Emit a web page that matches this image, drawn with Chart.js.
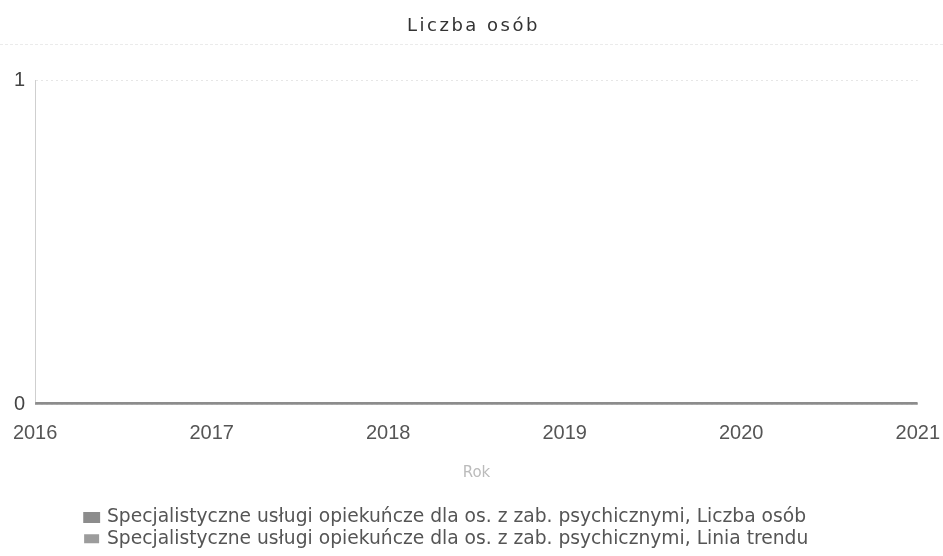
<!DOCTYPE html>
<html>
<head>
<meta charset="utf-8">
<script src="https://cdn.jsdelivr.net/npm/chart.js@4"></script>
<style>
  html, body { margin: 0; padding: 0; background: #fff; }
  #wrap { width: 943px; height: 556px; }
</style>
</head>
<body>
<div id="wrap"><canvas id="chart" width="943" height="556"></canvas></div>
<script>
const years = [2016, 2017, 2018, 2019, 2020, 2021];
const liczbaOsob = [0, 0, 0, 0, 0, 0];
const liniaTrendu = [0, 0, 0, 0, 0, 0];
const yTicks = [0, 1];

const sans = '"Liberation Sans", Arial, sans-serif';
const wide = '"DejaVu Sans", Verdana, sans-serif';

// spaced-out title like in the scan, faint rule under it, legend pushed right a bit
const scanLook = {
  id: 'scanLook',
  afterLayout(chart) {
    const tb = chart.titleBlock;
    if (tb && !tb._wrapped) {
      const orig = tb.draw;
      tb.draw = function () {
        const c = this.ctx;
        c.save();
        c.letterSpacing = '2.5px';
        orig.apply(this, arguments);
        c.restore();
      };
      tb._wrapped = true;
    }
    chart.legend.left = chart.chartArea.left + 48;
  },
  afterDraw(chart) {
    const tb = chart.titleBlock;
    const c = chart.ctx;
    const y = Math.round(tb.top + (tb.bottom - tb.top) * 0.5) + 0.5;
    c.save();
    c.strokeStyle = '#ebebeb';
    c.lineWidth = 1;
    c.setLineDash([3, 2]);
    c.beginPath();
    c.moveTo(0, y);
    c.lineTo(chart.width, y);
    c.stroke();
    c.restore();
  }
};

const ctx = document.getElementById('chart').getContext('2d');
new Chart(ctx, {
  type: 'line',
  data: {
    labels: years,
    datasets: [
      {
        label: 'Specjalistyczne usługi opiekuńcze dla os. z zab. psychicznymi, Liczba osób',
        data: years.map((y, i) => ({ x: y, y: liczbaOsob[i] })),
        borderColor: '#8c8c8c',
        backgroundColor: '#8c8c8c',
        borderWidth: 5,
        pointRadius: 0
      },
      {
        label: 'Specjalistyczne usługi opiekuńcze dla os. z zab. psychicznymi, Linia trendu',
        data: years.map((y, i) => ({ x: y, y: liniaTrendu[i] })),
        borderColor: '#9c9c9c',
        backgroundColor: '#9c9c9c',
        borderWidth: 3,
        pointRadius: 0
      }
    ]
  },
  options: {
    responsive: false,
    animation: false,
    layout: { padding: { left: 4, right: 0, top: 8, bottom: -2 } },
    plugins: {
      title: {
        display: true,
        text: 'Liczba osób',
        color: '#333',
        font: { family: wide, size: 18, weight: 'normal' },
        padding: { top: 8, bottom: 43 }
      },
      legend: {
        position: 'bottom',
        align: 'start',
        labels: {
          color: '#555',
          boxWidth: 12,
          boxHeight: 6,
          padding: 2.5,
          font: { family: wide, size: 18.7 }
        }
      },
      tooltip: { enabled: false }
    },
    scales: {
      x: {
        type: 'linear',
        min: years[0],
        max: years[years.length - 1],
        ticks: {
          stepSize: 1,
          color: '#555',
          padding: 3,
          font: { family: sans, size: 20 },
          callback: v => String(v)
        },
        // tick marks hidden but their length still spaces the labels down
        grid: { display: false, drawTicks: true, tickLength: 14 },
        border: { display: false },
        title: {
          display: true,
          text: 'Rok',
          color: '#bbb',
          font: { family: wide, size: 15 },
          padding: { top: 16, bottom: 23 }
        }
      },
      y: {
        min: yTicks[0],
        max: yTicks[yTicks.length - 1],
        ticks: {
          stepSize: 1,
          color: '#444',
          padding: 10,
          font: { family: sans, size: 20 }
        },
        grid: {
          color: '#e6e6e6',
          drawTicks: false
        },
        border: { display: true, color: '#cfcfcf', dash: [2, 3] }
      }
    }
  },
  plugins: [scanLook]
});
</script>
</body>
</html>
